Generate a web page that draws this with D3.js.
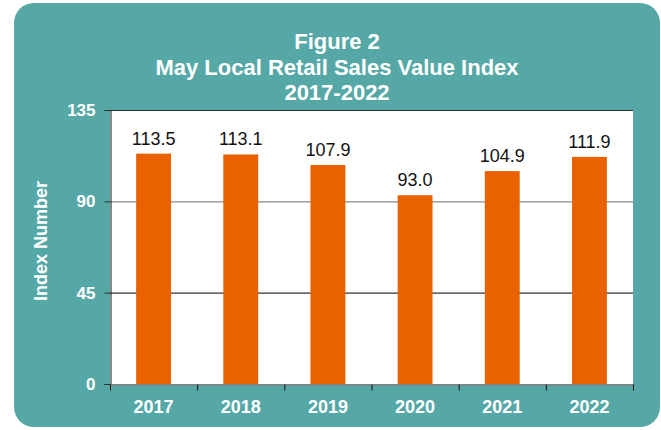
<!DOCTYPE html>
<html>
<head>
<meta charset="utf-8">
<script src="https://cdn.jsdelivr.net/npm/d3@7"></script>
<style>
  body { margin: 0; background: #fff; }
  text { font-family: "Liberation Sans", Arial, sans-serif; }
</style>
</head>
<body>
<div id="chart"></div>
<script>
const width = 661, height = 430;
const years = ["2017", "2018", "2019", "2020", "2021", "2022"];
const values = [113.5, 113.1, 107.9, 93.0, 104.9, 111.9];
const yTicks = [0, 45, 90, 135];
const titleLines = ["Figure 2", "May Local Retail Sales Value Index", "2017-2022"];

const plot = {left: 110, right: 633, top: 110, bottom: 384};

const svg = d3.select("#chart").append("svg")
  .attr("width", width)
  .attr("height", height);

// teal panel
svg.append("rect")
  .attr("x", 14).attr("y", 3)
  .attr("width", 646).attr("height", 424)
  .attr("rx", 20).attr("ry", 20)
  .style("fill", "#56a8a7");

svg.selectAll("text.title").data(titleLines).enter().append("text")
  .attr("class", "title")
  .attr("x", 337)
  .attr("y", (d, i) => 49 + i * 25.5)
  .attr("text-anchor", "middle")
  .style("fill", "#fff")
  .style("font-weight", "bold")
  .style("font-size", "22px")
  .text(d => d);

const x = d3.scaleBand().domain(years).range([plot.left, plot.right]).paddingInner(0.6).paddingOuter(0.3);
const y = d3.scaleLinear().domain([0, 135]).range([plot.bottom, plot.top]);

svg.append("rect")
  .attr("x", plot.left).attr("y", plot.top)
  .attr("width", plot.right - plot.left).attr("height", plot.bottom - plot.top)
  .style("fill", "#fff");

// gridlines
svg.append("g").selectAll("line").data(yTicks.slice(1)).enter().append("line")
  .attr("x1", plot.left).attr("x2", plot.right)
  .attr("y1", d => y(d) + 0.5).attr("y2", d => y(d) + 0.5)
  .style("stroke", (d) => d == 90 ? "#8a8a8a" : "#333")
  .style("stroke-width", 1.2);

svg.append("g").selectAll("rect").data(values).enter().append("rect")
  .attr("x", (d, i) => x(years[i]))
  .attr("y", d => y(d))
  .attr("width", x.bandwidth())
  .attr("height", d => plot.bottom - y(d))
  .style("fill", "#ea6100");

svg.append("g").selectAll("text").data(values).enter().append("text")
  .attr("x", (d, i) => x(years[i]) + x.bandwidth() / 2)
  .attr("y", d => y(d) - 9)
  .attr("text-anchor", "middle")
  .style("font-size", "18px")
  .style("fill", "#111")
  .text(d => d.toFixed(1));

// y axis
const yAxis = svg.append("g")
  .attr("transform", "translate(" + (plot.left + 0.5) + ",0)")
  .call(d3.axisLeft(y).tickValues(yTicks).tickSize(6).tickPadding(9));
yAxis.select(".domain").style("stroke", "#111");
yAxis.selectAll(".tick line").style("stroke", "#333");
yAxis.selectAll("text").style("fill", "#fff").style("font-weight", "bold").style("font-size", "17px");

// x axis
const xAxis = svg.append("g")
  .attr("transform", "translate(0," + (plot.bottom + 0.5) + ")")
  .call(d3.axisBottom(x).tickSize(0).tickPadding(16));
xAxis.select(".domain").style("stroke", "#808080").style("stroke-width", 1.5);
xAxis.selectAll("text").style("fill", "#fff").style("font-weight", "bold").style("font-size", "18px");
xAxis.selectAll("line.sep").data(d3.range(years.length + 1)).enter().append("line")
  .attr("class", "sep")
  .attr("x1", i => plot.left + 0.5 + i * (plot.right - plot.left) / years.length)
  .attr("x2", i => plot.left + 0.5 + i * (plot.right - plot.left) / years.length)
  .attr("y1", 0).attr("y2", 6)
  .style("stroke", "#111");

svg.append("text")
  .attr("transform", "translate(47,241) rotate(-90)")
  .attr("text-anchor", "middle")
  .style("fill", "#fff")
  .style("font-weight", "bold")
  .style("font-size", "18px")
  .text("Index Number");
</script>
</body>
</html>
